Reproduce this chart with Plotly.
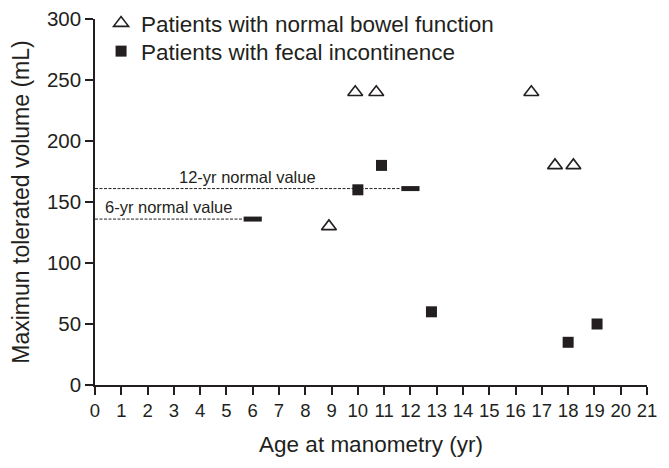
import plotly.graph_objects as go

# Data
normal_age = [8.9, 9.9, 10.7, 16.6, 17.5, 18.2]
normal_vol = [130, 240, 240, 240, 180, 180]
fi_age = [10.0, 10.9, 12.8, 18.0, 19.1]
fi_vol = [160, 180, 60, 35, 50]
ref_age = [6, 12]
ref_vol = [136, 161]
ref_labels = ["6-yr normal value", "12-yr normal value"]
ref_line_end = [5.65, 11.65]
x_ticks = list(range(0, 22))
y_ticks = [0, 50, 100, 150, 200, 250, 300]

FONT = "Liberation Sans, Arial, sans-serif"
INK = "#231f20"

fig = go.Figure()

# dashed reference lines
for xe, yv in zip(ref_line_end, ref_vol):
    fig.add_trace(go.Scatter(x=[0, xe], y=[yv, yv], mode="lines",
                             line=dict(color=INK, width=1, dash="3px,1.5px"),
                             showlegend=False, hoverinfo="skip"))

# reference value markers (short bars)
fig.add_trace(go.Scatter(x=ref_age, y=ref_vol, mode="markers",
                         marker=dict(symbol="line-ew", size=13,
                                     line=dict(color=INK, width=5)),
                         showlegend=False))

fig.add_trace(go.Scatter(x=normal_age, y=normal_vol, mode="markers",
                         name="Patients with normal bowel function",
                         legend="legend",
                         marker=dict(symbol="triangle-up-open", size=13,
                                     color=INK, line=dict(color=INK, width=1.6))))
fig.add_trace(go.Scatter(x=fi_age, y=fi_vol, mode="markers",
                         name="Patients with fecal incontinence",
                         legend="legend2",
                         marker=dict(symbol="square", size=11, color=INK)))

# reference labels
label_pos = [(2.78, 146), (5.82, 170.5)]
for (lx, ly), txt in zip(label_pos, ref_labels):
    fig.add_annotation(x=lx, y=ly, text=txt, showarrow=False,
                       font=dict(size=16.5, color=INK, family=FONT))

H = 460
PLOT_H = 366
leg_common = dict(xref="paper", yref="paper", xanchor="left", yanchor="top",
                  bgcolor="rgba(0,0,0,0)", font=dict(size=22.5, color=INK, family=FONT),
                  itemwidth=30)
fig.update_layout(
    width=661, height=H,
    margin=dict(l=87, r=22, t=11, b=83, autoexpand=False),
    paper_bgcolor="white", plot_bgcolor="white",
    font=dict(family=FONT, color=INK),
    showlegend=True,
    legend=dict(x=0.011, y=1 + 17 / PLOT_H, **leg_common),
    legend2=dict(x=0.011, y=1 - 11 / PLOT_H, **leg_common),
)
fig.update_xaxes(range=[0, 21], tickmode="array", tickvals=x_ticks,
                 ticks="outside", ticklen=8, tickwidth=1.5, tickcolor=INK,
                 showline=True, linecolor=INK, linewidth=1.5, showgrid=False,
                 zeroline=False, automargin=False, ticklabeloverflow="allow",
                 tickfont=dict(size=18.5, color=INK),
                 title=dict(text="Age at manometry (yr)", font=dict(size=22.5, color=INK), standoff=16))
fig.update_yaxes(range=[0, 300], tickmode="array", tickvals=y_ticks,
                 ticks="outside", ticklen=8, tickwidth=1.5, tickcolor=INK,
                 showline=True, linecolor=INK, linewidth=1.5, showgrid=False,
                 zeroline=False, automargin=False, ticklabeloverflow="allow",
                 tickfont=dict(size=20.5, color=INK),
                 title=dict(text="Maximun tolerated volume (mL)", font=dict(size=23, color=INK), standoff=12))

fig.write_html("out.html")
